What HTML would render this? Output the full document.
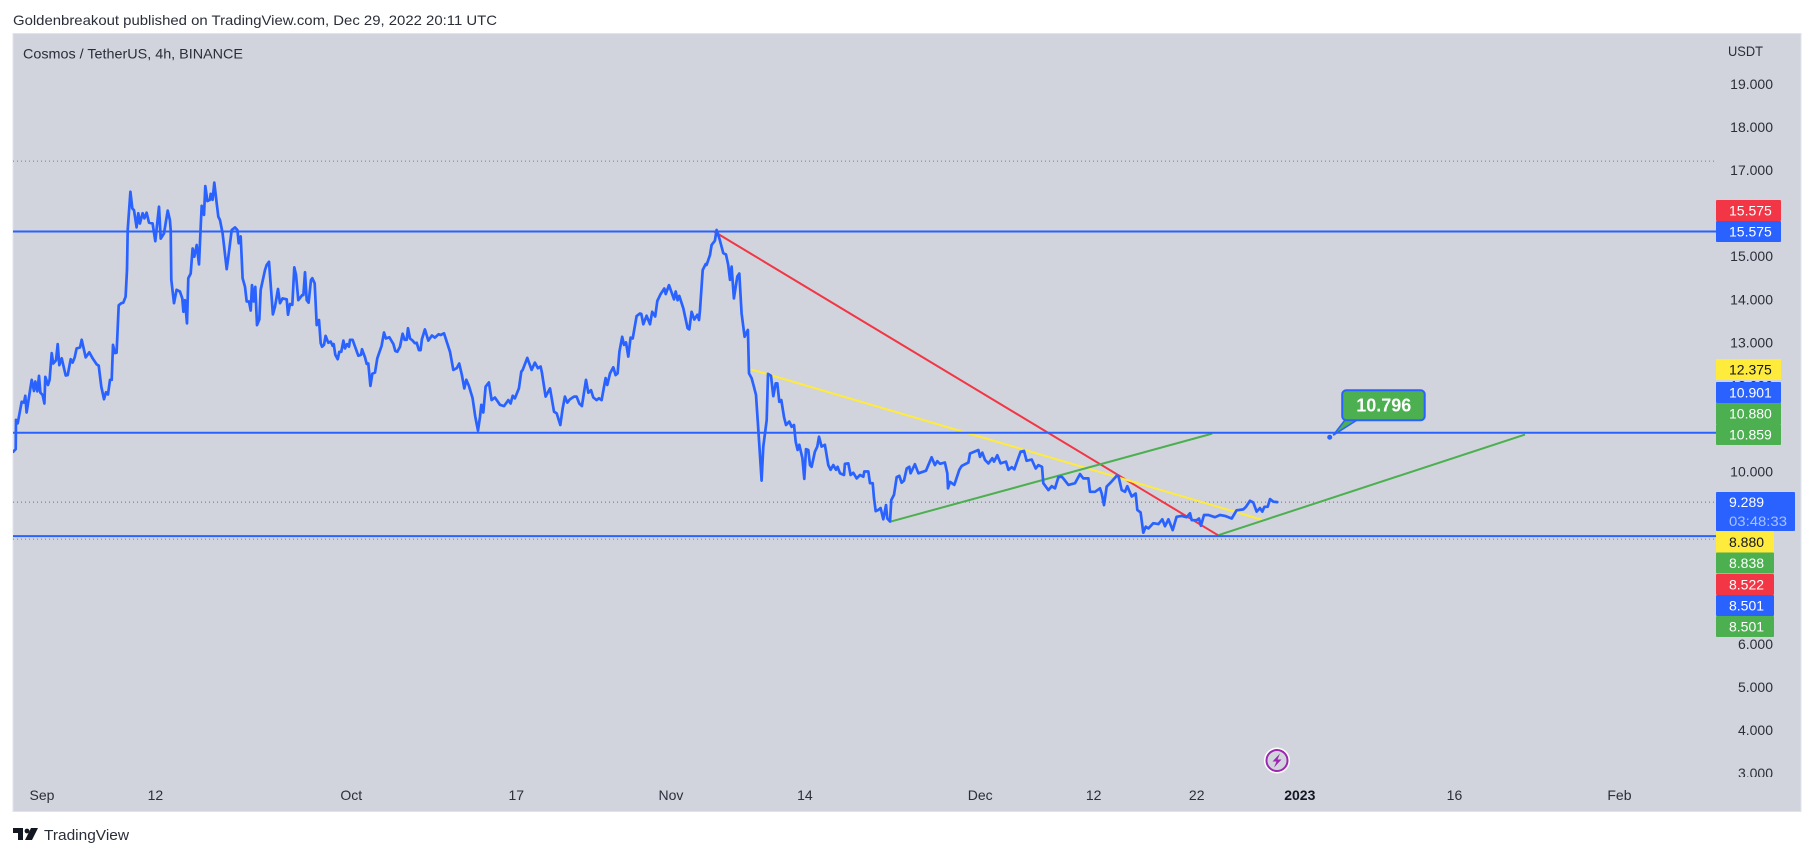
<!DOCTYPE html>
<html lang="en">
<head>
<meta charset="utf-8">
<title>Cosmos / TetherUS, 4h, BINANCE</title>
<style>
html,body{margin:0;padding:0;background:#fff;width:1814px;height:856px;overflow:hidden}
svg{display:block}
text{font-family:"Liberation Sans",sans-serif}
</style>
</head>
<body>
<svg id="chart" xmlns="http://www.w3.org/2000/svg" width="1814" height="856" viewBox="0 0 1814 856">
  <defs>
    <clipPath id="plot-clip"><rect x="13" y="34" width="1703" height="743"/></clipPath>
    <clipPath id="axis-clip"><rect x="1716" y="34" width="84" height="743"/></clipPath>
  </defs>
  <text x="13" y="25" font-size="14" fill="#2a2e39" textLength="484" lengthAdjust="spacingAndGlyphs">Goldenbreakout published on TradingView.com, Dec 29, 2022 20:11 UTC</text>
  <rect x="13" y="33.5" width="1788" height="778" fill="#d1d4dc" stroke="#e0e3eb" stroke-width="1"/>
  <text x="23" y="58.5" font-size="14" fill="#2a2e39" textLength="220" lengthAdjust="spacingAndGlyphs">Cosmos / TetherUS, 4h, BINANCE</text>
  <text x="1728" y="56" font-size="14" fill="#2a2e39" textLength="35" lengthAdjust="spacingAndGlyphs">USDT</text>
  <g id="price-ticks" clip-path="url(#axis-clip)"></g>
  <g id="time-ticks"></g>
  <g id="plot" clip-path="url(#plot-clip)"></g>

  <g font-size="14" font-weight="400">
    <g><rect x="1716" y="200" width="65" height="21" rx="1" fill="#f23645"/><text x="1729" y="215.5" fill="#fff">15.575</text></g>
    <g><rect x="1716" y="221" width="65" height="21" rx="1" fill="#2962ff"/><text x="1729" y="236.5" fill="#fff">15.575</text></g>
    <g><rect x="1716" y="359" width="65" height="21" fill="#ffeb3b"/><text x="1729" y="374.5" fill="#131722">12.375</text></g>
    <g><rect x="1716" y="382" width="65" height="21" rx="1" fill="#2962ff"/><text x="1729" y="397.5" fill="#fff">10.901</text></g>
    <g><rect x="1716" y="403" width="65" height="21" fill="#4caf50"/><text x="1729" y="418.5" fill="#fff">10.880</text></g>
    <g><rect x="1716" y="424" width="65" height="21" rx="1" fill="#4caf50"/><text x="1729" y="439.5" fill="#fff">10.859</text></g>
    <g><rect x="1716" y="492" width="79" height="39" rx="1" fill="#2962ff"/><text x="1729" y="507" fill="#fff">9.289</text><text x="1729" y="526" fill="#a9c1ff" textLength="58" lengthAdjust="spacingAndGlyphs">03:48:33</text></g>
    <g><rect x="1716" y="531.5" width="58" height="21" fill="#ffeb3b"/><text x="1729" y="547" fill="#131722">8.880</text></g>
    <g><rect x="1716" y="552.5" width="58" height="21" rx="1" fill="#4caf50"/><text x="1729" y="568" fill="#fff">8.838</text></g>
    <g><rect x="1716" y="574" width="58" height="21" rx="1" fill="#f23645"/><text x="1729" y="589.5" fill="#fff">8.522</text></g>
    <g><rect x="1716" y="595" width="58" height="21" rx="1" fill="#2962ff"/><text x="1729" y="610.5" fill="#fff">8.501</text></g>
    <g><rect x="1716" y="616" width="58" height="21" rx="1" fill="#4caf50"/><text x="1729" y="631.5" fill="#fff">8.501</text></g>
  </g>

  <g>
    <circle cx="1277" cy="760.5" r="13" fill="#fff"/>
    <circle cx="1277" cy="760.5" r="10.5" fill="#d1d4dc" stroke="#9c27b0" stroke-width="2"/>
    <path d="M1280 753.5 L1272.5 761.5 L1276.5 761.5 L1274 767.5 L1281.5 759.5 L1277.5 759.5 Z" fill="#9c27b0"/>
  </g>

  <g>
    <path d="M13 828 H23 V840 H18 V833 H13 Z M31 828 H38 L32 840 H25 Z" fill="#131722"/>
    <circle cx="27" cy="831" r="2.4" fill="#131722"/>
    <text x="44" y="840" font-size="15" fill="#2a2e39" textLength="85" lengthAdjust="spacingAndGlyphs">TradingView</text>
  </g>
</svg>

<script>
// Time is days since 1 Sep 2022; prices are USDT.
const days = [
-2.78,-2.55,-2.52,-2.36,-1.97,-1.75,-1.62,-1.49,-1.00,-0.78,
-0.65,-0.45,-0.29,-0.16,0.06,0.23,0.32,0.58,0.74,0.94,
1.10,1.36,1.52,1.68,1.91,2.30,2.49,2.78,2.97,3.17,
3.36,3.69,3.85,4.24,4.59,4.91,5.30,5.50,5.75,6.01,
6.21,6.40,6.60,6.76,6.89,7.08,7.24,7.44,7.69,7.89,
8.11,8.24,8.31,8.57,8.76,8.92,9.18,9.34,9.50,9.76,
9.93,10.15,10.38,10.73,10.99,11.35,11.51,11.83,12.19,12.41,
12.48,12.54,12.80,13.06,13.38,13.61,13.71,13.87,14.06,14.19,
14.42,14.61,14.77,15.00,15.23,15.42,15.49,15.71,15.84,16.04,
16.29,16.36,16.55,16.71,16.94,17.10,17.26,17.52,17.91,18.10,
18.40,18.72,18.95,19.08,19.27,19.46,19.69,19.85,20.08,20.24,
20.37,20.53,20.69,20.85,21.08,21.21,21.63,21.79,22.02,22.40,
22.60,22.89,23.08,23.34,23.73,23.86,24.05,24.28,24.47,24.64,
24.86,25.25,25.35,25.51,25.67,25.86,26.09,26.22,26.45,26.64,
26.87,27.03,27.16,27.35,27.51,27.77,28.00,28.19,28.29,28.45,
28.68,28.84,29.03,29.23,29.39,29.58,29.78,29.87,30.13,30.68,
30.94,31.04,31.33,31.49,31.65,31.85,32.04,32.30,32.52,32.94,
33.17,33.36,33.69,34.08,34.27,34.46,34.72,34.98,35.17,35.37,
35.50,35.69,35.95,36.17,36.34,36.56,36.72,36.85,37.14,37.47,
37.82,38.11,38.47,38.66,38.99,39.57,39.89,40.22,40.47,40.73,
40.96,41.15,41.41,41.77,42.03,42.29,42.48,42.61,42.80,43.03,
43.35,43.61,43.93,44.42,44.81,45.23,45.45,45.65,45.87,46.26,
46.49,46.62,47.07,47.49,47.81,48.10,48.36,48.49,48.85,49.27,
49.66,49.92,50.27,50.50,50.72,50.95,51.21,51.60,51.85,52.11,
52.37,52.76,52.99,53.25,53.47,53.79,54.02,54.28,54.67,54.83,
55.09,55.41,55.64,55.83,56.00,56.28,56.45,56.64,56.87,57.09,
57.29,57.67,58.00,58.13,58.32,58.64,58.97,59.19,59.48,59.68,
60.00,60.36,60.49,60.81,61.30,61.46,61.65,61.81,62.20,62.62,
62.78,63.01,63.27,63.56,63.72,63.82,64.08,64.37,64.46,64.79,
64.95,65.27,65.43,65.69,66.08,66.34,66.56,66.73,66.89,67.11,
67.44,67.63,67.86,68.15,68.38,68.47,68.57,68.83,69.05,69.25,
69.54,69.80,69.96,70.29,70.42,70.71,70.93,71.16,71.32,71.51,
71.71,71.97,72.16,72.48,72.71,72.94,73.10,73.29,73.45,73.75,
73.94,74.10,74.33,74.49,74.65,74.97,75.20,75.36,75.62,75.94,
76.27,76.49,76.75,77.01,77.17,77.40,77.79,77.88,78.21,78.43,
78.69,79.02,79.34,79.66,79.76,80.15,80.31,80.57,80.70,80.86,
81.12,81.34,81.60,81.86,81.99,82.25,82.38,82.64,82.90,83.15,
83.38,83.61,83.87,84.12,84.25,84.67,85.00,85.74,86.29,86.61,
86.84,87.10,87.58,87.81,87.88,88.07,88.49,88.97,89.20,89.85,
90.01,90.82,90.98,91.20,91.46,91.79,92.17,92.34,92.66,92.98,
93.50,93.73,94.05,94.31,94.60,94.92,95.25,95.50,95.99,96.38,
96.64,96.99,97.12,97.61,97.93,98.25,98.58,98.90,99.06,99.55,
100.19,100.68,101.00,101.49,101.65,102.13,102.62,102.78,103.01,103.27,
103.75,104.24,104.40,104.72,105.04,105.27,105.69,106.08,106.24,106.56,
106.82,107.05,107.31,107.79,108.28,108.66,108.92,109.25,109.67,110.05,
110.54,111.02,111.35,111.51,112.00,112.22,112.41,112.71,113.13,113.77,
114.26,114.74,115.39,115.87,116.52,116.78,117.17,117.49,117.81,118.14,
118.36,118.56,118.88,119.11,119.43,119.82
];
const closes = [
10.46,10.52,11.20,11.12,11.62,11.60,11.76,11.37,12.13,11.87,
12.09,11.86,12.22,11.83,11.78,11.58,12.20,12.01,12.13,12.75,
12.51,12.58,12.96,12.47,12.63,12.23,12.24,12.61,12.53,12.65,
12.86,12.88,13.06,12.65,12.77,12.63,12.49,12.46,11.97,11.68,
11.84,11.79,12.13,12.13,12.94,12.75,12.76,13.86,13.91,13.92,
14.06,14.68,15.61,16.50,16.11,16.07,15.67,16.00,15.76,16.00,
15.88,16.01,15.78,15.76,15.35,16.15,15.41,15.53,16.06,15.84,
15.61,14.45,13.91,14.22,14.18,14.02,13.71,13.98,13.44,14.49,
14.60,15.18,14.99,15.26,14.81,15.84,16.17,15.96,16.63,16.28,
16.31,16.45,16.31,16.71,16.23,15.92,15.84,15.53,14.70,15.03,
15.61,15.67,15.61,15.30,15.46,14.49,14.29,13.95,13.95,13.74,
14.33,13.95,14.29,13.40,13.53,14.22,14.68,14.80,14.87,13.65,
13.83,14.24,13.91,14.02,14.00,13.64,13.89,13.87,14.74,14.57,
13.98,14.10,14.10,14.63,13.98,13.92,14.45,14.49,14.37,13.40,
13.52,12.98,12.90,12.94,13.15,12.99,13.02,12.92,12.96,12.71,
12.61,12.78,12.78,13.04,12.86,12.96,12.90,13.06,13.06,12.69,
12.71,12.84,12.65,12.50,12.51,11.99,12.27,12.30,12.63,12.92,
13.23,13.09,13.12,12.96,12.80,12.78,12.90,13.20,13.06,13.06,
13.33,13.09,13.04,12.98,12.99,12.82,12.82,13.07,13.30,13.04,
13.16,13.11,13.19,13.17,13.21,12.78,12.36,12.40,12.51,12.24,
11.93,12.13,11.99,11.70,11.27,10.95,11.27,11.55,11.37,11.97,
12.07,11.66,11.72,11.55,11.52,11.66,11.58,11.76,11.70,11.93,
12.32,12.36,12.64,12.36,12.53,12.40,12.44,12.30,11.74,11.93,
11.39,11.35,11.08,11.47,11.74,11.60,11.68,11.74,11.74,11.58,
11.52,12.13,11.83,11.89,11.72,11.66,11.70,11.66,12.17,12.01,
12.28,12.42,12.24,12.28,12.78,13.13,12.94,13.00,12.67,13.11,
13.09,13.61,13.67,13.66,13.42,13.62,13.42,13.71,13.60,13.96,
14.12,14.25,14.12,14.33,14.00,14.18,13.98,14.08,13.79,13.33,
13.30,13.71,13.53,13.64,13.52,13.75,14.68,14.82,14.80,15.03,
15.26,15.36,15.61,15.42,15.07,15.04,14.80,14.45,14.76,14.02,
14.53,14.60,13.67,13.13,13.25,13.29,12.28,12.17,11.97,11.78,
10.73,9.79,10.58,11.20,12.27,12.22,11.75,12.05,12.05,11.62,
11.66,11.27,11.08,11.16,11.04,11.08,10.69,10.50,10.62,10.31,
9.83,10.52,10.50,10.15,10.11,10.46,10.58,10.81,10.58,10.62,
10.15,10.04,10.15,10.04,10.11,9.96,9.92,10.18,10.19,9.92,
9.97,9.84,9.92,9.88,10.00,10.00,9.73,9.73,9.38,9.08,
9.11,9.15,8.89,9.22,8.91,8.84,9.34,9.46,9.87,9.90,
9.74,9.79,10.07,10.11,9.96,10.17,9.96,10.02,10.33,10.15,
10.24,10.18,10.21,9.96,9.61,9.76,9.69,10.04,10.13,10.21,
10.42,10.50,10.34,10.44,10.27,10.19,10.31,10.23,10.38,10.19,
10.23,10.04,10.10,10.05,10.25,10.46,10.48,10.25,10.28,10.07,
10.15,10.11,9.73,9.57,9.66,9.61,9.87,9.88,9.84,9.69,
9.73,9.94,9.84,9.84,9.53,9.53,9.61,9.49,9.22,9.65,
9.77,9.90,9.90,9.57,9.53,9.66,9.42,9.49,9.11,9.05,
8.58,8.72,8.68,8.80,8.78,8.89,8.73,8.89,8.64,8.95,
8.97,8.94,9.03,8.87,8.87,8.91,8.74,8.99,8.99,8.94,
8.99,8.97,8.91,9.10,9.12,9.18,9.32,9.28,9.07,9.15,
9.07,9.18,9.18,9.36,9.30,9.29
];

const priceTicks = [19,18,17,16,15,14,13,12,11,10,9,8,7,6,5,4,3];
const timeTickLabels = ["Sep","12","Oct","17","Nov","14","Dec","12","22","2023","16","Feb"];
const timeTickDays = [0,11,30,46,61,74,91,102,112,122,137,153];
const timeTickBold = ["2023"];

const horizontalLevels = [15.575,10.901,8.501];
const dottedGrayLevels = [17.21,8.43];
const lastPriceLevel = 9.289;

const redTrendDays = [65.18,114.06];
const redTrendPrices = [15.575,8.522];
const yellowTrendDays = [68.74,118.33];
const yellowTrendPrices = [12.375,8.88];
const greenTrendADays = [82.32,113.5];
const greenTrendAPrices = [8.838,10.88];
const greenTrendBDays = [114.1,143.84];
const greenTrendBPrices = [8.522,10.859];

const calloutDay = 124.9;
const calloutPrice = 10.796;

const xAt = d => 42 + 10.31 * d;
const yAt = p => 84 + (19 - p) * 43.06;

const NS = "http://www.w3.org/2000/svg";
function svgEl(tag, attrs, parent) {
  const el = document.createElementNS(NS, tag);
  for (const k in attrs) el.setAttribute(k, attrs[k]);
  parent.appendChild(el);
  return el;
}
const plot = document.getElementById("plot");
const priceAxis = document.getElementById("price-ticks");
const timeAxis = document.getElementById("time-ticks");

priceTicks.forEach(p => {
  const t = svgEl("text", {x: 1773, y: yAt(p) + 5, "text-anchor": "end", "font-size": 14, fill: "#2a2e39"}, priceAxis);
  
  
  t.textContent = p.toFixed(3);
});

timeTickLabels.forEach((label, i) => {
  const bold = timeTickBold.includes(label);
  const t = svgEl("text", {x: xAt(timeTickDays[i]), y: 800, "text-anchor": "middle", "font-size": 14, fill: bold ? "#131722" : "#2a2e39", "font-weight": bold ? 700 : 400}, timeAxis);
  
  
  t.textContent = label;
});

dottedGrayLevels.forEach(p => {
  const l = svgEl("line", {x1: 13, x2: 1716, y1: yAt(p), y2: yAt(p), stroke: "#787b86", "stroke-width": 1, "stroke-dasharray": "1 3"}, plot);
  
  
});

const lastLine = svgEl("line", {x1: 13, x2: 1716, y1: yAt(lastPriceLevel), y2: yAt(lastPriceLevel), stroke: "#f23645", "stroke-width": 1, "stroke-dasharray": "1 3"}, plot);



function trend(ds, ps, color) {
  const l = svgEl("line", {x1: xAt(ds[0]), y1: yAt(ps[0]), x2: xAt(ds[1]), y2: yAt(ps[1]), stroke: color, "stroke-width": 2}, plot);
  
  return l;
}
trend(redTrendDays, redTrendPrices, "#f23645");
trend(yellowTrendDays, yellowTrendPrices, "#ffeb3b");
trend(greenTrendADays, greenTrendAPrices, "#4caf50");
trend(greenTrendBDays, greenTrendBPrices, "#4caf50");

horizontalLevels.forEach(p => {
  const l = svgEl("line", {x1: 13, x2: 1716, y1: yAt(p), y2: yAt(p), stroke: "#2962ff", "stroke-width": 2}, plot);
  
  
});

const pricePoints = days.map((d, i) => xAt(d).toFixed(1) + "," + yAt(closes[i]).toFixed(1)).join(" ");
const priceLine = svgEl("polyline", {points: pricePoints, fill: "none", stroke: "#2962ff", "stroke-width": 2.7, "stroke-linejoin": "round", "stroke-linecap": "round"}, plot);



const cx = xAt(calloutDay), cy = yAt(calloutPrice);
const callout = svgEl("g", {}, plot);


const calloutDot = svgEl("circle", {cx: cx, cy: cy, r: 2.5, fill: "#2962ff"}, callout);


const calloutTail = svgEl("path", {d: `M${cx + 3.5} ${cy - 2} L${cx + 15} ${cy - 17} L${cx + 27} ${cy - 17} Z`, fill: "#4caf50", stroke: "#2962ff", "stroke-width": 1.5}, callout);


const calloutBox = svgEl("rect", {x: cx + 12.5, y: cy - 47, width: 82.5, height: 30, rx: 4, fill: "#4caf50", stroke: "#2962ff", "stroke-width": 2}, callout);


const calloutText = svgEl("text", {x: cx + 54, y: cy - 26, "text-anchor": "middle", "font-size": 18, "font-weight": 700, fill: "#fff"}, callout);


calloutText.textContent = calloutPrice.toFixed(3);
</script>
</body>
</html>
